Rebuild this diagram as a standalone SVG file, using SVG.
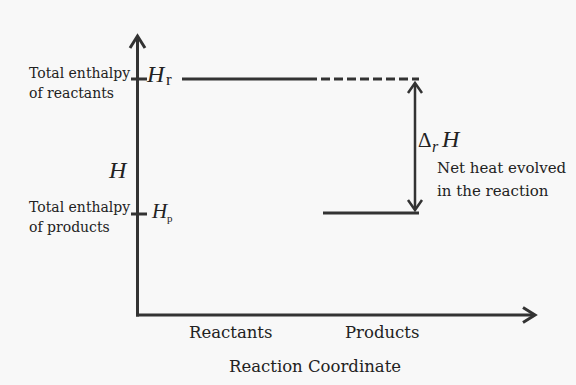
<svg xmlns="http://www.w3.org/2000/svg" width="576" height="385" viewBox="0 0 576 385">
<style>
.ln{stroke:#333;stroke-width:3;fill:none;stroke-linecap:butt}
.ah{stroke:#333;stroke-width:3;fill:none;stroke-linejoin:miter}
.t{font-family:"DejaVu Serif",serif;fill:#222}
.hi{font-family:"Liberation Serif",serif;font-style:italic;fill:#222}
.sub{font-family:"Liberation Serif",serif;fill:#222}
</style>
<rect width="576" height="385" fill="#f8f8f8"/>
<g id="axes">
<line class="ln" x1="137.5" y1="37" x2="137.5" y2="316.5"/>
<polyline class="ah" points="130,48 137.5,36 145,48"/>
<line class="ln" x1="136" y1="315" x2="533" y2="315"/>
<polyline class="ah" points="523,307.5 535,315 523,322.5"/>
<line class="ln" x1="131" y1="79" x2="147" y2="79"/>
<line class="ln" x1="131" y1="214" x2="147" y2="214"/>
</g>
<g id="reactants-level">
<line class="ln" x1="182" y1="79" x2="308" y2="79"/>
<line class="ln" x1="308" y1="79" x2="419" y2="79" stroke-dasharray="9,4"/>
</g>
<g id="products-level">
<line class="ln" x1="323" y1="213" x2="419" y2="213"/>
</g>
<g id="connectors">
<line class="ln" x1="415" y1="84" x2="415" y2="209" style="stroke-width:2.5"/>
<polyline class="ah" style="stroke-width:2.5" points="408,93 415,83 422,93"/>
<polyline class="ah" style="stroke-width:2.5" points="408,200 415,210 422,200"/>
</g>
<g id="labels-left">
<text class="t" x="29" y="78" font-size="14">Total enthalpy</text>
<text class="t" x="29" y="98" font-size="14">of reactants</text>
<text class="t" x="29" y="212" font-size="14">Total enthalpy</text>
<text class="t" x="29" y="232" font-size="14">of products</text>
<text class="hi" x="109" y="178" font-size="24">H</text>
<text class="hi" x="147" y="82" font-size="24">H</text>
<text class="sub" x="166" y="85" font-size="17">r</text>
<text class="hi" x="152" y="218" font-size="21">H</text>
<text class="sub" x="167" y="222" font-size="11">p</text>
</g>
<g id="delta-label">
<text class="sub" x="418" y="147" font-size="21">Δ</text>
<text class="hi" x="432" y="152" font-size="16">r</text>
<text class="hi" x="442" y="147" font-size="24">H</text>
<text class="t" x="437" y="173" font-size="15">Net heat evolved</text>
<text class="t" x="437" y="196" font-size="15">in the reaction</text>
</g>
<g id="labels-bottom">
<text class="t" x="189" y="338" font-size="16.5">Reactants</text>
<text class="t" x="345" y="338" font-size="16.5">Products</text>
<text class="t" x="229" y="372" font-size="16.5">Reaction Coordinate</text>
</g>
</svg>
